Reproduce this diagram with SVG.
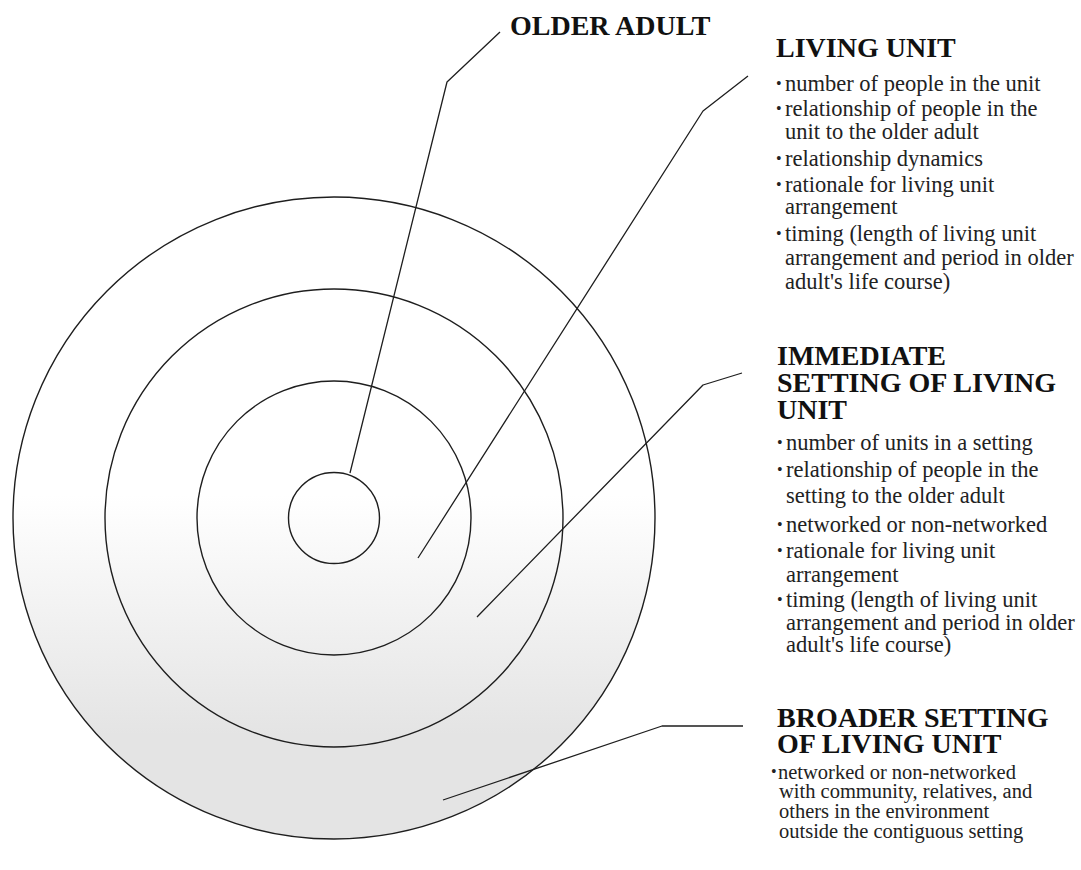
<svg xmlns="http://www.w3.org/2000/svg" width="1081" height="870" viewBox="0 0 1081 870">
<style>
.ring{fill:none;stroke:#1e1e1e;stroke-width:1.4}
.conn{fill:none;stroke:#1e1e1e;stroke-width:1.3;stroke-linejoin:round}
.h{font-family:"Liberation Serif","Times New Roman",serif;font-weight:bold;font-size:28px;fill:#111}
.b{font-family:"Liberation Serif","Times New Roman",serif;font-size:22.5px;fill:#222}
.s{font-family:"Liberation Serif","Times New Roman",serif;font-size:20.5px;fill:#222}
.bul{font-family:"Liberation Serif","Times New Roman",serif;font-size:16px;fill:#222}
</style>
<defs>
<linearGradient id="shade" gradientUnits="userSpaceOnUse" x1="0" y1="495" x2="0" y2="735">
<stop offset="0" stop-color="#ffffff"/>
<stop offset="1" stop-color="#e4e4e4"/>
</linearGradient>
</defs>
<rect width="1081" height="870" fill="#ffffff"/>
<g id="rings">
<circle id="broader-ring" cx="334" cy="518" r="321" fill="url(#shade)" stroke="#1e1e1e" stroke-width="1.4"/>
<circle id="immediate-ring" class="ring" cx="334" cy="518" r="229"/>
<circle id="living-ring" class="ring" cx="334" cy="518" r="137"/>
<circle id="older-ring" class="ring" cx="334" cy="518" r="45.5"/>
</g>
<g id="connectors">
<polyline class="conn" points="500,32 447,82 350,473"/>
<polyline class="conn" points="748,76 703,111 418,558"/>
<polyline class="conn" points="742,373 703,385 477,617"/>
<polyline class="conn" points="743,726 662,726 443,800"/>
</g>
<g id="older-adult">
<text class="h" x="510" y="35">OLDER ADULT</text>
</g>
<g id="living-unit">
<text class="h" x="776" y="57">LIVING UNIT</text>
<text class="bul" x="776" y="89">•</text><text class="b" x="785" y="91">number of people in the unit</text>
<text class="bul" x="776" y="114">•</text><text class="b" x="785" y="116">relationship of people in the</text>
<text class="b" x="785" y="139">unit to the older adult</text>
<text class="bul" x="776" y="164">•</text><text class="b" x="785" y="166">relationship dynamics</text>
<text class="bul" x="776" y="190">•</text><text class="b" x="785" y="192">rationale for living unit</text>
<text class="b" x="785" y="214">arrangement</text>
<text class="bul" x="776" y="239">•</text><text class="b" x="785" y="241">timing (length of living unit</text>
<text class="b" x="785" y="265">arrangement and period in older</text>
<text class="b" x="785" y="289">adult's life course)</text>
</g>
<g id="immediate-setting">
<text class="h" x="777" y="365">IMMEDIATE</text>
<text class="h" x="777" y="392">SETTING OF LIVING</text>
<text class="h" x="777" y="419">UNIT</text>
<text class="bul" x="777" y="448">•</text><text class="b" x="786" y="450">number of units in a setting</text>
<text class="bul" x="777" y="475">•</text><text class="b" x="786" y="477">relationship of people in the</text>
<text class="b" x="786" y="503">setting to the older adult</text>
<text class="bul" x="777" y="530">•</text><text class="b" x="786" y="532">networked or non-networked</text>
<text class="bul" x="777" y="556">•</text><text class="b" x="786" y="558">rationale for living unit</text>
<text class="b" x="786" y="582">arrangement</text>
<text class="bul" x="777" y="605">•</text><text class="b" x="786" y="607">timing (length of living unit</text>
<text class="b" x="786" y="630">arrangement and period in older</text>
<text class="b" x="786" y="652">adult's life course)</text>
</g>
<g id="broader-setting">
<text class="h" x="777" y="727">BROADER SETTING</text>
<text class="h" x="777" y="753">OF LIVING UNIT</text>
<text class="bul" x="771" y="777">•</text><text class="s" x="778" y="779">networked or non-networked</text>
<text class="s" x="779" y="798">with community, relatives, and</text>
<text class="s" x="779" y="818">others in the environment</text>
<text class="s" x="779" y="838">outside the contiguous setting</text>
</g>
</svg>
